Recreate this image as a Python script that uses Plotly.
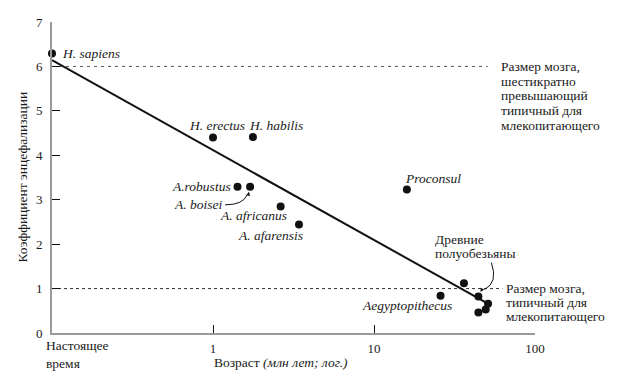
import math
import plotly.graph_objects as go

# ---- data ----
species = ["H. sapiens", "H. erectus", "H. habilis", "A.robustus", "A. boisei",
           "A. africanus", "A. afarensis", "Proconsul", "", "", "Aegyptopithecus", "", "", ""]
age_myr = [0.1, 1.0, 1.77, 1.42, 1.70, 2.63, 3.42, 16.0, 36.2, 44.5, 25.9, 51.1, 49.4, 44.5]
eq_value = [6.29, 4.40, 4.41, 3.29, 3.29, 2.85, 2.44, 3.23, 1.12, 0.82, 0.84, 0.66, 0.53, 0.46]

fit_age = [0.1, 49.4]
fit_eq = [6.14, 0.69]

ref6_age = [0.1, 50.8]
ref6_eq = [6, 6]
ref1_age = [0.1, 62.8]
ref1_eq = [1, 1]

x_tickvals = [1, 10, 100]
x_ticktext = ["1", "10", "100"]
y_tickvals = [0, 1, 2, 3, 4, 5, 6, 7]

# label placement (style): (xanchor, xshift, yshift)
label_style = {
    "H. sapiens": ("left", 8, 0),
    "H. erectus": ("center", 4, 12),
    "H. habilis": ("left", -6, 12),
    "A.robustus": ("right", -5, 0),
    "A. boisei": ("right", -26, -18),
    "A. africanus": ("right", 8, -9),
    "A. afarensis": ("right", 6, -11),
    "Proconsul": ("left", -4, 11),
    "Aegyptopithecus": ("right", 13, -10),
}

FONT = "'Liberation Serif', 'DejaVu Serif', serif"
FS = 13.5      # latin labels
FS_RU = 13.5   # cyrillic text
FS_TICK = 13
TXT = "#1a1a1a"

fig = go.Figure()
fig.add_trace(go.Scatter(x=ref6_age, y=ref6_eq, mode="lines",
                         line=dict(color="#555", width=1, dash="3px,4px"),
                         hoverinfo="skip", showlegend=False))
fig.add_trace(go.Scatter(x=ref1_age, y=ref1_eq, mode="lines",
                         line=dict(color="#333", width=1, dash="3px,3px"),
                         hoverinfo="skip", showlegend=False))
fig.add_trace(go.Scatter(x=fit_age, y=fit_eq, mode="lines",
                         line=dict(color="#111", width=2),
                         hoverinfo="skip", showlegend=False, cliponaxis=False))
fig.add_trace(go.Scatter(x=age_myr, y=eq_value, mode="markers",
                         marker=dict(color="#111", size=8),
                         showlegend=False, cliponaxis=False))

annotations = []
for name, a, e in zip(species, age_myr, eq_value):
    if not name:
        continue
    xa, xs, ys = label_style[name]
    annotations.append(dict(x=math.log10(a), y=e, xref="x", yref="y",
                            text=f"<i>{name}</i>", showarrow=False,
                            xanchor=xa, yanchor="middle", xshift=xs, yshift=ys,
                            font=dict(family=FONT, size=FS, color=TXT)))

# curved arrows (pixel-sized paths anchored at the target dots) + arrowheads
boisei_i = species.index("A. boisei")
prosimian_i = 9
shapes = [
    dict(type="path", xref="x", yref="y", xsizemode="pixel", ysizemode="pixel",
         xanchor=age_myr[boisei_i], yanchor=eq_value[boisei_i],
         path="M -25,-18 Q -7,-18 -3,-8", line=dict(color="#111", width=1)),
    dict(type="path", xref="x", yref="y", xsizemode="pixel", ysizemode="pixel",
         xanchor=age_myr[prosimian_i], yanchor=eq_value[prosimian_i],
         path="M 13,34 Q 20,14 6,7", line=dict(color="#111", width=1)),
]
annotations.append(dict(x=math.log10(age_myr[boisei_i]), y=eq_value[boisei_i],
                        xref="x", yref="y", text="", showarrow=True,
                        ax=-2, ay=9, arrowhead=2, arrowsize=0.8, arrowwidth=1,
                        arrowcolor="#111", standoff=5))
annotations.append(dict(x=math.log10(age_myr[prosimian_i]), y=eq_value[prosimian_i],
                        xref="x", yref="y", text="", showarrow=True,
                        ax=4, ay=-8, arrowhead=2, arrowsize=0.8, arrowwidth=1,
                        arrowcolor="#111", standoff=5))

def block(lines, x_pos, y_val, y_first_shift, spacing, xref="paper", xshift=0):
    for i, ln in enumerate(lines):
        annotations.append(dict(x=x_pos, y=y_val, xref=xref, yref="y", text=ln,
                                showarrow=False, xanchor="left", yanchor="middle",
                                xshift=xshift, yshift=y_first_shift - spacing * i,
                                font=dict(family=FONT, size=FS_RU, color=TXT)))

block(["Размер мозга,", "шестикратно", "превышающий", "типичный для",
       "млекопитающего"], 0.926, 6, 0, 14.7)
block(["Размер мозга,", "типичный для", "млекопитающего"], 0.936, 1, 0, 14.2)
block(["Древние", "полуобезьяны"], math.log10(age_myr[prosimian_i]), eq_value[prosimian_i],
      57.5, 14.4, xref="x", xshift=-45)

annotations.append(dict(x=0, y=0, xref="paper", yref="paper",
                        text="Настоящее<br>время", showarrow=False,
                        xanchor="left", yanchor="top", xshift=-8, yshift=-3, align="left",
                        font=dict(family=FONT, size=FS_RU, color=TXT)))
annotations.append(dict(x=0, y=0, xref="x", yref="paper",
                        text="Возраст <i>(млн лет; лог.)</i>", showarrow=False,
                        xanchor="left", yanchor="middle", xshift=-1, yshift=-29,
                        font=dict(family=FONT, size=FS_RU, color=TXT)))
annotations.append(dict(x=0, y=0.5, xref="paper", yref="paper",
                        text="Коэффициент энцефализации", showarrow=False,
                        textangle=-90, xanchor="center", yanchor="middle", xshift=-30,
                        font=dict(family=FONT, size=FS_RU, color=TXT)))

fig.update_layout(
    width=633, height=392,
    margin=dict(l=52, r=98, t=22, b=59),
    plot_bgcolor="white", paper_bgcolor="white",
    font=dict(family=FONT, size=FS, color=TXT),
    annotations=annotations,
    shapes=shapes,
    xaxis=dict(type="log", range=[-1, 2], tickvals=x_tickvals, ticktext=x_ticktext,
               showline=True, linecolor="#9a9a9a", linewidth=2,
               ticks="inside", ticklen=8, tickcolor="#111", tickwidth=1,
               showgrid=False, zeroline=False, ticklabelstandoff=2,
               tickfont=dict(family=FONT, size=FS_TICK, color=TXT)),
    yaxis=dict(range=[0, 7], tickvals=y_tickvals,
               showline=True, linecolor="#9a9a9a", linewidth=2,
               ticks="inside", ticklen=8, tickcolor="#111", tickwidth=1,
               showgrid=False, zeroline=False, ticklabelstandoff=5,
               tickfont=dict(family=FONT, size=FS_TICK, color=TXT)),
)

fig.write_html("out.html", config={"displayModeBar": False},
               post_script="document.body.style.margin='0';document.body.style.padding='0';")
